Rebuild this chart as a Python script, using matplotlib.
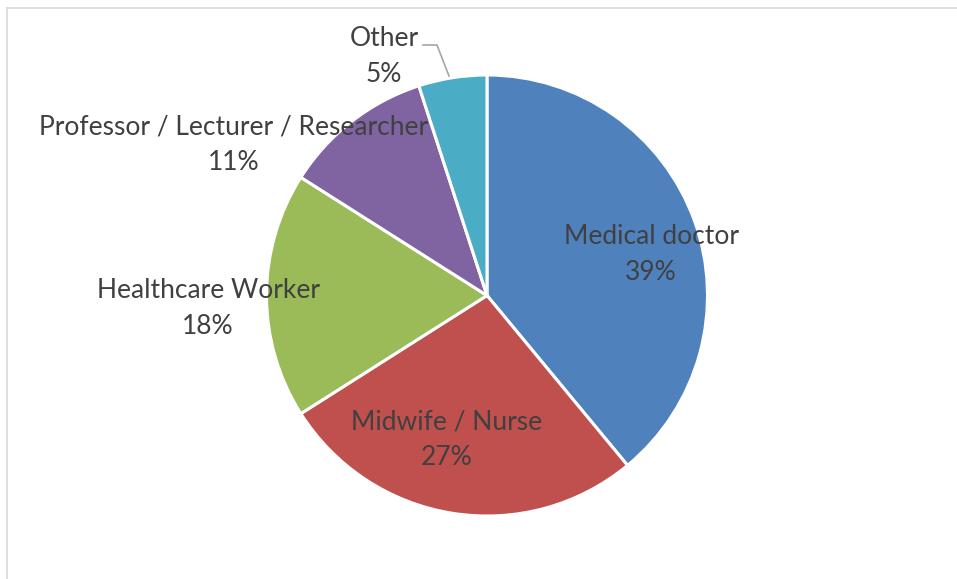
import matplotlib
matplotlib.use("Agg")
import matplotlib.pyplot as plt
from matplotlib.lines import Line2D

categories = ["Medical doctor", "Midwife / Nurse", "Healthcare Worker",
              "Professor / Lecturer / Researcher", "Other"]
values = [39, 27, 18, 11, 5]
pct_labels = ["39%", "27%", "18%", "11%", "5%"]
colors = ["#4F81BD", "#C0504D", "#9BBB59", "#8064A2", "#4BACC6"]

W, H = 957, 579
CX, CY, R = 487, 295.5, 220.5

fig = plt.figure(figsize=(W / 100, H / 100), dpi=100)
ax = fig.add_axes([0, 0, 1, 1])

ax.pie(values, colors=colors, startangle=90, counterclock=False, radius=1,
       wedgeprops=dict(edgecolor="white", linewidth=2.2))
ax.set_xlim(-CX / R, (W - CX) / R)
ax.set_ylim(-(H - CY) / R, CY / R)
ax.set_aspect("equal")
ax.axis("off")

def px(x, y):
    return (x - CX) / R, (CY - y) / R

label_pos = [(651, 255), (447, 440), (208, 308.5), (234, 144.5), (384, 56)]
for cat, pct, (lx, ly) in zip(categories, pct_labels, label_pos):
    x, y = px(lx, ly)
    ax.text(x, y, f"{cat}\n{pct}", ha="center", va="center", fontsize=19,
            color="#404040", family="Lato", linespacing=1.55)

# leader line for Other
pts = [px(423, 45), px(437, 45), px(449, 76)]
ax.add_line(Line2D([p[0] for p in pts], [p[1] for p in pts], color="#A6A6A6", lw=1.2))

# chart area border (left and top visible)
fig.add_artist(Line2D([7.5 / W, 7.5 / W], [0, 1 - 8 / H], transform=fig.transFigure,
                      color="#D9D9D9", lw=1.2))
fig.add_artist(Line2D([7.5 / W, 1], [1 - 8 / H, 1 - 8 / H], transform=fig.transFigure,
                      color="#D9D9D9", lw=1.2))

fig.savefig("out.png", dpi=100)
